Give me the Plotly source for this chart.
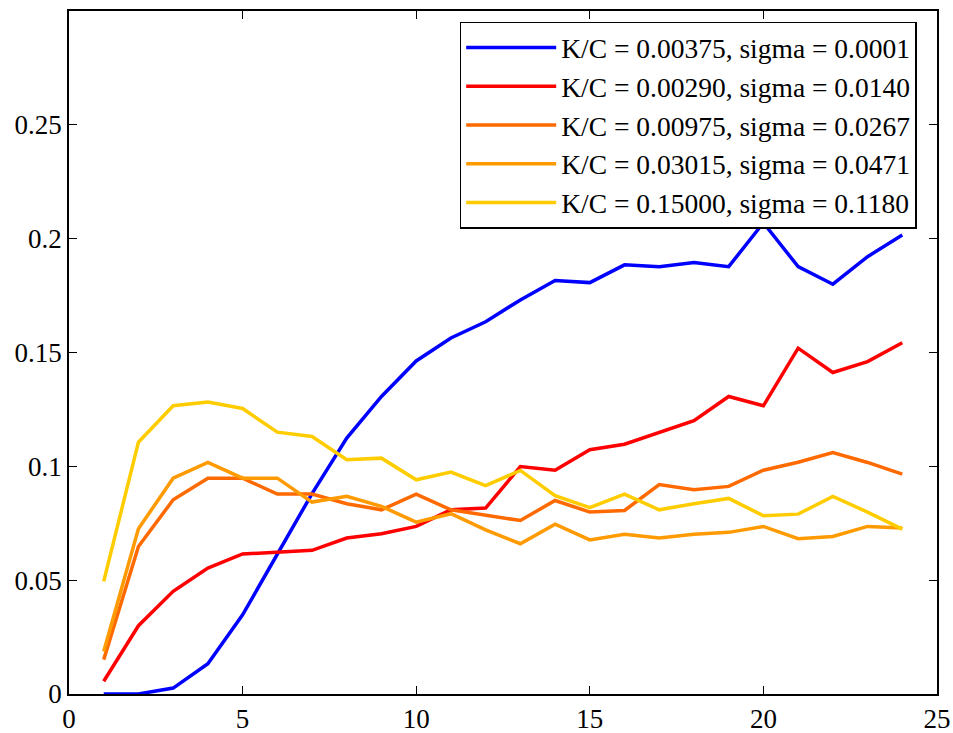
import plotly.graph_objects as go

x = list(range(1, 25))

labels = [
    "K/C = 0.00375, sigma = 0.0001",
    "K/C = 0.00290, sigma = 0.0140",
    "K/C = 0.00975, sigma = 0.0267",
    "K/C = 0.03015, sigma = 0.0471",
    "K/C = 0.15000, sigma = 0.1180",
]

blue = [0.0, 0.0, 0.0026, 0.0133, 0.0348, 0.0615, 0.088, 0.1124, 0.1307, 0.1463,
        0.1564, 0.1635, 0.1731, 0.1816, 0.1807, 0.1885, 0.1877, 0.1895, 0.1877, 0.207,
        0.1877, 0.1800, 0.1921, 0.2016]
red = [0.0056, 0.030, 0.0451, 0.0553, 0.0615, 0.0622, 0.0631, 0.0685, 0.0704, 0.0736,
       0.0809, 0.0817, 0.0999, 0.0983, 0.1073, 0.1097, 0.1150, 0.1201, 0.1307, 0.1266,
       0.1519, 0.1412, 0.1460, 0.1543]
dark_orange = [0.0151, 0.0648, 0.0853, 0.0948, 0.0948, 0.0878, 0.0878, 0.0836, 0.0809, 0.0878,
               0.0809, 0.0786, 0.0762, 0.0850, 0.0799, 0.0806, 0.0920, 0.0897, 0.0912, 0.0983,
               0.1018, 0.1061, 0.1017, 0.0966]
orange = [0.0187, 0.0726, 0.0948, 0.1017, 0.0948, 0.0948, 0.0843, 0.0868, 0.0824, 0.0755,
          0.0792, 0.0721, 0.0660, 0.0746, 0.0677, 0.0702, 0.0685, 0.0702, 0.0710, 0.0736,
          0.0682, 0.0692, 0.0736, 0.0729]
yellow = [0.0495, 0.1106, 0.1266, 0.1282, 0.1254, 0.1150, 0.1131, 0.1029, 0.1036, 0.0941,
          0.0975, 0.0915, 0.0982, 0.0871, 0.0819, 0.0878, 0.0809, 0.0836, 0.0859, 0.0783,
          0.0790, 0.0868, 0.0799, 0.0724]

series = [blue, red, dark_orange, orange, yellow]
colors = ["#0000FF", "#FF0000", "#FF6A00", "#FF9A00", "#FFCC00"]

x_ticks = [0, 5, 10, 15, 20, 25]
y_ticks = [0, 0.05, 0.1, 0.15, 0.2, 0.25]
y_ticktext = ["0", "0.05", "0.1", "0.15", "0.2", "0.25"]

fig = go.Figure()
for ys, c, name in zip(series, colors, labels):
    fig.add_trace(go.Scatter(x=x, y=ys, mode="lines", name=name,
                             line=dict(color=c, width=3.5)))

font_family = '"Liberation Serif", "Times New Roman", serif'
fig.update_layout(
    width=953, height=733,
    margin=dict(l=69, r=16, t=11, b=39),
    paper_bgcolor="white", plot_bgcolor="white",
    font=dict(family=font_family, size=27, color="black"),
    showlegend=True,
    legend=dict(
        x=0.9766, y=0.9845, xanchor="right", yanchor="top",
        bgcolor="white", bordercolor="black", borderwidth=1.5,
        font=dict(family=font_family, size=27.5, color="black"),
        tracegroupgap=0, itemwidth=90,
    ),
)
fig.update_xaxes(
    range=[0, 25], tickvals=x_ticks, ticks="inside", ticklen=8,
    showline=True, linecolor="black", linewidth=1.5, mirror="allticks",
    showgrid=False, zeroline=False, tickcolor="black", automargin=False,
)
fig.update_yaxes(
    range=[0, 0.3], tickvals=y_ticks, ticktext=y_ticktext, ticks="inside", ticklen=8,
    showline=True, linecolor="black", linewidth=1.5, mirror="allticks",
    showgrid=False, zeroline=False, tickcolor="black", automargin=False,
)

fig.write_html("out.html")
